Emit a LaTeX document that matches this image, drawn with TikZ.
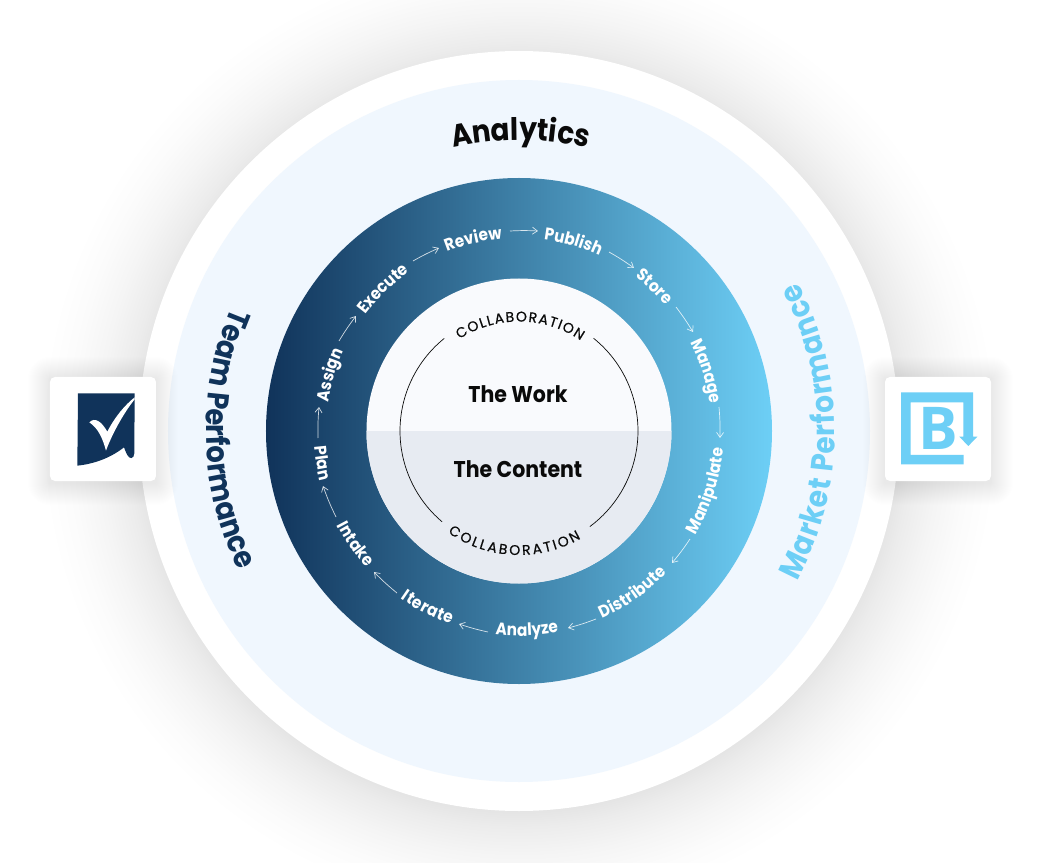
\documentclass[tikz,border=0pt]{standalone}
\usepackage{fontspec}
\setmainfont{Poppins}
\newfontfamily\bfont{Open Sans}
\newfontfamily\collabf[FakeBold=0.5]{Poppins}
\newfontfamily\narrowf[FakeStretch=0.9]{Poppins}
\usetikzlibrary{decorations.text,arrows.meta,bending}
\definecolor{navy}{HTML}{10335A}
\definecolor{sky}{HTML}{6DCFF6}
\definecolor{midblue}{HTML}{3B7A9F}
\definecolor{pale}{HTML}{F0F7FE}
\definecolor{uppercore}{HTML}{F9FAFD}
\definecolor{lowercore}{HTML}{E7EBF2}
\definecolor{ink}{HTML}{0A0A0A}
\pgfdeclareradialshading{haloshade}{\pgfpoint{0bp}{0bp}}{%
 color(0bp)=(black!11);color(19.5bp)=(black!11);color(20.5bp)=(black!7.5);color(22bp)=(black!4);color(23.5bp)=(black!1.5);color(25bp)=(white);color(50bp)=(white)}
\newcommand\arctext[5]{%
 \pgfmathsetmacro\endang{#3+(#3>#2?1:-1)*8/#1*57.296}%
 \path[decorate,decoration={text along path,text align={fit to path},text={|#4|#5{\hbox to 8pt{\hss}}}}] (#2:#1pt) arc[start angle=#2,end angle=\endang,radius=#1pt];}
\newcommand\stepfont{\narrowf\fontsize{17}{17}\selectfont\bfseries\color{white}}
\newcommand\collabfont{\collabf\fontsize{14}{14}\selectfont\color{ink}}
\tikzset{
 flow/.style={draw=white,opacity=.8,line width=.7pt,-{Straight Barb[length=5pt,width=7pt]}},
 card/.style={fill=white,rounded corners=5pt,minimum width=106pt,minimum height=104pt,inner sep=0pt},
 coretitle/.style={font=\narrowf\fontsize{22.8}{23}\selectfont\bfseries,text=ink,inner sep=0pt},
 thinring/.style={draw=ink,line width=.7pt},
}
\begin{document}
\begin{tikzpicture}[x=1pt,y=1pt]
\useasboundingbox (-519,-431) rectangle (522,431);
\fill[white] (-519,-431) rectangle (522,431);
\shade[shading=haloshade] (0,-4) circle (478pt);
\fill[white] (0,0) circle (380pt);
\fill[pale] (0,0) circle (351pt);
\shade[left color=navy,middle color=midblue,right color=sky] (0,0) circle (253pt);
\fill[uppercore] (0,0) circle (152.5pt);
\fill[lowercore] (180:152.5pt) arc[start angle=180,end angle=360,radius=152.5pt] -- cycle;
\draw[thinring] (51.2:119pt) arc[start angle=51.2,end angle=-53.4,radius=119pt];
\draw[thinring] (128.9:119pt) arc[start angle=128.9,end angle=229.7,radius=119pt];
% big titles
\arctext{291}{103.1}{76.5}{\narrowf\fontsize{31}{32}\selectfont\bfseries\color{ink}}{Analytics}
\arctext{313}{156.8}{205}{\narrowf\fontsize{30.5}{31}\selectfont\bfseries\color{navy}}{Team Performance}
\arctext{316}{-28.4}{28.3}{\narrowf\fontsize{31}{32}\selectfont\bfseries\color{sky}}{Market Performance}
% core
\node[coretitle] (work) at (-1,37) {The Work};
\node[coretitle] (content) at (-1,-38) {The Content};
\arctext{109.5}{123}{55}{\collabfont}{COLLABORATION}
\arctext{124}{-125}{-59}{\collabfont}{COLLABORATION}
% steps
\arctext{193}{171.4}{155.9}{\stepfont}{Assign}
\arctext{193}{142.9}{124.5}{\stepfont}{Execute}
\arctext{193}{111.9}{94.9}{\stepfont}{Review}
\arctext{193}{82.6}{65.6}{\stepfont}{Publish}
\arctext{193}{53}{40.4}{\stepfont}{Store}
\arctext{193}{27.3}{9.6}{\stepfont}{Manage}
\arctext{205}{-30.6}{-4.8}{\stepfont}{Manipulate}
\arctext{205}{-66.2}{-43.6}{\stepfont}{Distribute}
\arctext{205}{-96.6}{-78.8}{\stepfont}{Analyze}
\arctext{205}{-125.2}{-109.3}{\stepfont}{Iterate}
\arctext{205}{-152.7}{-138}{\stepfont}{Intake}
\arctext{205}{-175.6}{-165.8}{\stepfont}{Plan}
\begin{scope}[shift={(-519pt,431pt)},x=1pt,y=-1pt]
 \coordinate (p1) at (318,438); \coordinate (q1) at (319,407);
 \coordinate (p2) at (339,341); \coordinate (q2) at (356,316);
 \coordinate (p3) at (413,261); \coordinate (q3) at (439,248);
 \coordinate (p4) at (510,231); \coordinate (q4) at (538,231);
 \coordinate (p5) at (609,252); \coordinate (q5) at (634,268);
 \coordinate (p6) at (676,307); \coordinate (q6) at (693,332);
 \coordinate (p7) at (719,407); \coordinate (q7) at (720,438);
 \coordinate (p8) at (690,539); \coordinate (q8) at (672,563);
 \coordinate (p9) at (596,619); \coordinate (q9) at (568,628);
 \coordinate (p10) at (488,632); \coordinate (q10) at (459,624);
 \coordinate (p11) at (397,593); \coordinate (q11) at (374,572);
 \coordinate (p12) at (336,517); \coordinate (q12) at (323,486);
 \foreach \k in {1,...,12}{\draw[flow] (p\k) to[bend left=3] (q\k);}
 % card shadows
 \foreach \g in {1,2,...,22}{
  \fill[black,opacity=.0035,rounded corners=\g pt] (50-\g,377-\g+2) rectangle (156+\g,481+\g+2);
  \fill[black,opacity=.0035,rounded corners=\g pt] (885-\g,377-\g+2) rectangle (991+\g,481+\g+2);
 }
 \node[card] (smartcard) at (103,429) {};
 \node[card] (brandcard) at (938,429) {};
\end{scope}
% Smartsheet logo
\begin{scope}[shift={(-489pt,71pt)},x=.33333pt,y=-.33333pt]
 \fill[navy] (144,100) -- (314,100) -- (313,280) .. controls (312,298) and (298,298) .. (292,285) .. controls (288,278) and (285,270) .. (282,262) .. controls (240,295) and (190,312) .. (142,317) -- cycle;
 \fill[white] (178,187) .. controls (195,170) and (215,185) .. (232,215) .. controls (255,170) and (285,135) .. (314,112) -- (314,118) .. controls (280,160) and (245,225) .. (228,272) .. controls (218,235) and (205,205) .. (178,187) -- cycle;
\end{scope}
% Brandfolder logo
\begin{scope}[shift={(351pt,71pt)},x=.33333pt,y=-.33333pt]
 \fill[sky] (93,97) -- (309,97) -- (309,230) -- (322,230) -- (295,258) -- (268,230) -- (280,230) -- (280,127) -- (122,127) -- (122,285) -- (281,285) -- (281,313) -- (93,313) -- cycle;
 \node[inner sep=0pt,text=sky,font=\bfont\fontsize{59}{60}\selectfont\bfseries] (bletter) at (206,205) {B};
\end{scope}
\end{tikzpicture}
\end{document}
